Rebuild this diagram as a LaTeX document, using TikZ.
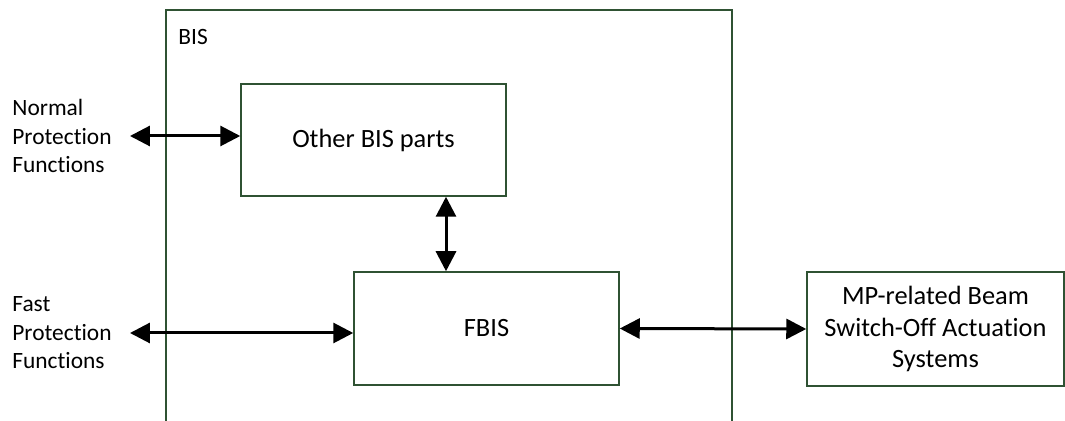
\documentclass[tikz,border=0pt]{standalone}
\usepackage{fontspec}
\setmainfont{Carlito}[Ligatures=NoCommon]
\usepackage{xcolor}
\usetikzlibrary{arrows.meta,positioning,calc}
\definecolor{boxgreen}{RGB}{47,82,51}

\begin{document}
\begin{tikzpicture}[
    x=0.5pt, y=-0.5pt,
    font=\fontsize{11.7}{14.25}\selectfont,
    frame/.style={draw=boxgreen, line width=0.75pt, fill=white, inner sep=0pt},
    block/.style={frame, minimum width=132.5pt, minimum height=56.5pt, align=center, font=\fontsize{13.2}{15.8}\selectfont},
    side/.style={align=left, inner sep=2pt, anchor=west},
    link/.style={line width=1.5pt, {Triangle[length=10pt,width=10pt]}-{Triangle[length=10pt,width=10pt]}}
]
\useasboundingbox (0,0) rectangle (1065,421);
\clip (0,0) rectangle (1065,421);

% outer BIS frame, open at the bottom of the page
\node[frame, minimum width=283pt, minimum height=215pt] (bis) at (449,225) {};
\node[side] (bislabel) at (174,37) {BIS};

\node[block, minimum height=56pt] (other) at (373.5,140) {Other BIS parts};
\node[block] (fbis) at (486.5,328.5) {FBIS};
\node[block, minimum width=128.5pt, minimum height=57pt] (mp) at (935.5,329) {MP-related Beam\\Switch-Off Actuation\\Systems};

\node[side] (normal) at (8,136) {Normal\\Protection\\Functions};
\node[side] (fast) at (8,333) {Fast\\Protection\\Functions};

\draw[link] ([xshift=7pt]normal.east) -- (normal.east -| other.west);
\draw[link] ([xshift=7pt]fast.east) -- (fast.east -| fbis.west);
\draw[link] ([xshift=36.25pt]other.south) -- ([xshift=36.25pt]other.south |- fbis.north);
\draw[link] (fbis.east) -- (mp.west);
\end{tikzpicture}
\end{document}
